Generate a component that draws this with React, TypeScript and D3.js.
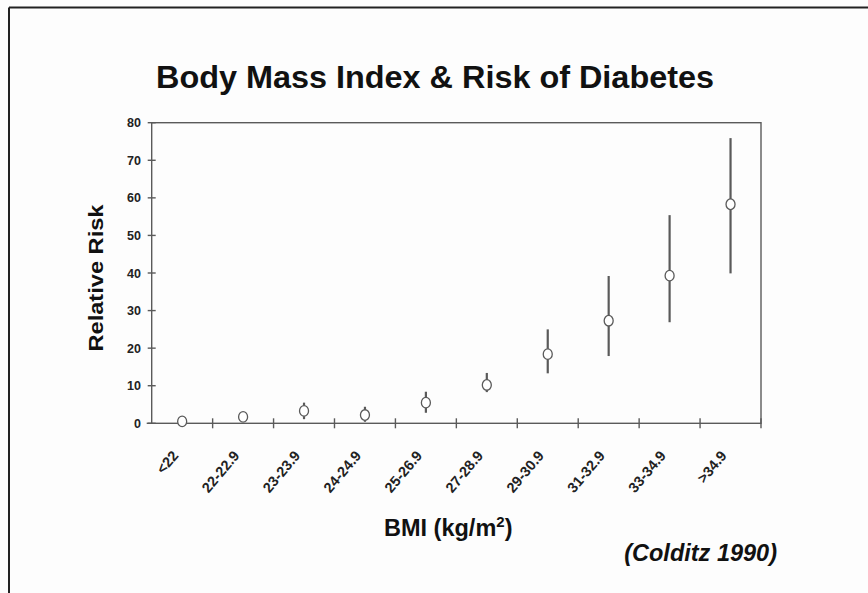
import React from "react";
import * as d3 from "d3";

const categories = ["<22", "22-22.9", "23-23.9", "24-24.9", "25-26.9", "27-28.9", "29-30.9", "31-32.9", "33-34.9", ">34.9"];
const relativeRisk = [0.5, 1.7, 3.3, 2.2, 5.5, 10.2, 18.4, 27.3, 39.3, 58.3];
const lowerCI = [0.5, 1.0, 1.1, 0.4, 2.8, 8.3, 13.3, 17.9, 26.9, 39.9];
const upperCI = [0.5, 3.0, 5.5, 4.4, 8.4, 13.4, 25.0, 39.2, 55.4, 75.9];
const yTicks = [0, 10, 20, 30, 40, 50, 60, 70, 80];

const W = 868;
const H = 593;
const left = 151.7;
const right = 761;
const top = 122.7;
const bottom = 423.3;

const AXIS = "#5a5a5a";
const SANS = "'Liberation Sans', Arial, Helvetica, sans-serif";

export default function App() {
  const x = d3.scaleBand<string>().domain(categories).range([left, right]).padding(0);
  const y = d3.scaleLinear().domain([0, 80]).range([bottom, top]);
  const bw = x.bandwidth();
  const boundaries = categories.map((c) => (x(c) as number) + bw);

  return (
    <svg
      width={W}
      height={H}
      style={{ position: "absolute", left: 0, top: 0, background: "#fdfdfd" }}
    >
      <rect x={0} y={0} width={W} height={H} fill="#fdfdfd" />
      {/* outer frame (top & left visible) */}
      <line x1={9} y1={7.5} x2={W} y2={7.5} stroke="#222" strokeWidth={2} />
      <line x1={9} y1={7.5} x2={9} y2={H} stroke="#222" strokeWidth={2} />

      {/* title */}
      <text
        x={435}
        y={88}
        textAnchor="middle"
        fontFamily={SANS}
        fontWeight="bold"
        fontSize={32}
        textLength={558}
        lengthAdjust="spacingAndGlyphs"
        fill="#111"
      >
        Body Mass Index &amp; Risk of Diabetes
      </text>

      {/* plot box */}
      <rect x={left} y={top} width={right - left} height={bottom - top} fill="none" stroke={AXIS} strokeWidth={1.4} />

      {/* y ticks */}
      {yTicks.map((t) => (
        <g key={t}>
          <line x1={left - 4} x2={left + 4} y1={y(t)} y2={y(t)} stroke={AXIS} strokeWidth={1.4} />
          <text
            x={141}
            y={y(t)}
            dy="0.36em"
            textAnchor="end"
            fontFamily={SANS}
            fontWeight="bold"
            fontSize={12.5}
            fill="#222"
          >
            {t}
          </text>
        </g>
      ))}

      {/* x ticks */}
      {boundaries.map((b, i) => (
        <line key={i} x1={b} x2={b} y1={bottom - 5} y2={bottom + 5} stroke={AXIS} strokeWidth={1.4} />
      ))}
      <line x1={left - 5} x2={left} y1={bottom} y2={bottom} stroke={AXIS} strokeWidth={1.4} />

      {/* x tick labels */}
      {categories.map((c) => {
        const cx = (x(c) as number) + bw / 2 - 3;
        const cy = 456;
        return (
          <text
            key={c}
            transform={`translate(${cx},${cy}) rotate(-50)`}
            textAnchor="end"
            fontFamily={SANS}
            fontWeight="bold"
            fontSize={14.5}
            fill="#222"
          >
            {c}
          </text>
        );
      })}

      {/* error bars */}
      {categories.map((c, i) => {
        const cx = (x(c) as number) + bw / 2;
        return (
          <line
            key={"e" + c}
            x1={cx}
            x2={cx}
            y1={y(lowerCI[i])}
            y2={y(upperCI[i])}
            stroke={AXIS}
            strokeWidth={2.2}
          />
        );
      })}

      {/* markers */}
      {categories.map((c, i) => {
        const cx = (x(c) as number) + bw / 2;
        return (
          <ellipse
            key={"m" + c}
            cx={cx}
            cy={y(relativeRisk[i])}
            rx={4.5}
            ry={5.3}
            fill="#fff"
            stroke={AXIS}
            strokeWidth={1.3}
          />
        );
      })}

      {/* y axis label */}
      <text
        transform={`translate(103,278) rotate(-90)`}
        textAnchor="middle"
        fontFamily={SANS}
        fontWeight="bold"
        fontSize={21}
        textLength={147}
        lengthAdjust="spacingAndGlyphs"
        fill="#111"
      >
        Relative Risk
      </text>

      {/* x axis label */}
      <text x={384} y={536} fontFamily={SANS} fontWeight="bold" fontSize={23.5} fill="#111">
        BMI (kg/m<tspan dy={-9} fontSize={15}>2</tspan>
        <tspan dy={9}>)</tspan>
      </text>

      {/* source */}
      <text
        x={777}
        y={561}
        textAnchor="end"
        fontFamily={SANS}
        fontWeight="bold"
        fontStyle="italic"
        fontSize={23.5}
        fill="#111"
      >
        (Colditz 1990)
      </text>
    </svg>
  );
}
